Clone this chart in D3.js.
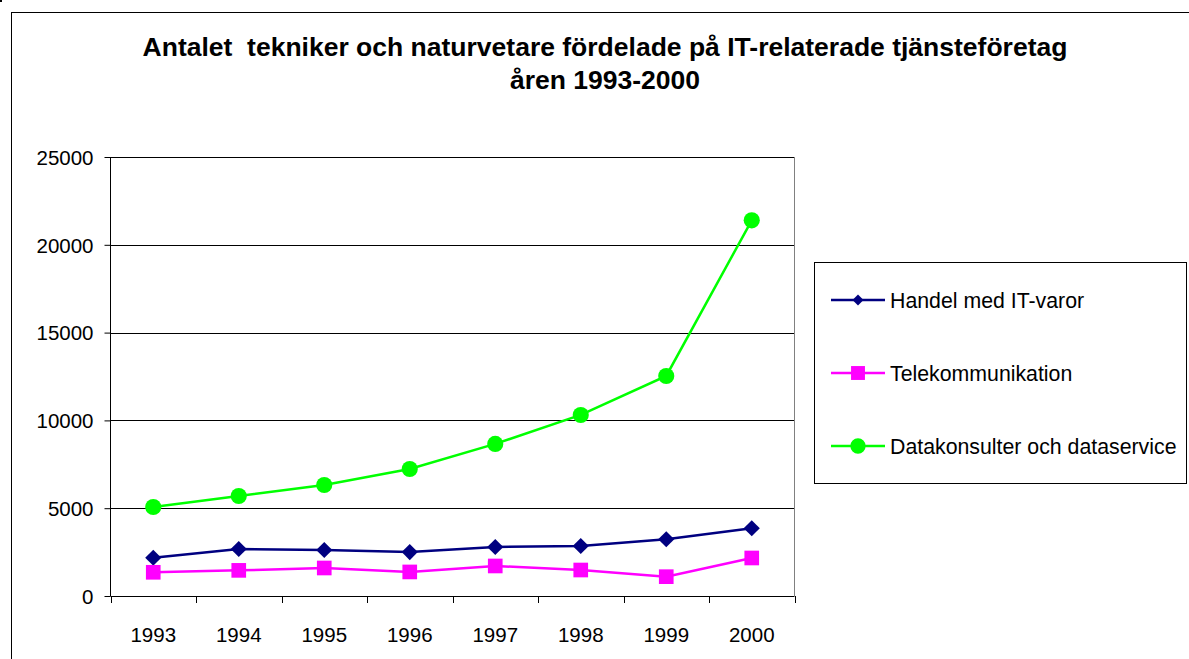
<!DOCTYPE html>
<html>
<head>
<meta charset="utf-8">
<script src="https://cdn.jsdelivr.net/npm/d3@7"></script>
<style>
  body { margin: 0; background: #fff; }
  text { font-family: "Liberation Sans", Arial, sans-serif; }
</style>
</head>
<body>
<div id="chart"></div>
<script>
// Data
const years = ["1993", "1994", "1995", "1996", "1997", "1998", "1999", "2000"];
const handel = [2180, 2680, 2620, 2500, 2790, 2850, 3230, 3855];
const telekom = [1350, 1460, 1595, 1370, 1710, 1480, 1100, 2165];
const datakons = [5070, 5695, 6320, 7230, 8660, 10310, 12530, 21395];
const yTicks = [0, 5000, 10000, 15000, 20000, 25000];
const seriesNames = ["Handel med IT-varor", "Telekommunikation", "Datakonsulter och dataservice"];

const W = 1189, H = 659;
const plot = { left: 110.5, right: 794.5, top: 157, bottom: 596 };
const font = '"Liberation Sans", Arial, sans-serif';

const svg = d3.select("#chart").append("svg")
    .attr("width", W).attr("height", H);

// outer chart frame (runs off the right and bottom edge)
svg.append("rect")
    .attr("x", 11.5).attr("y", 12.5)
    .attr("width", W + 10).attr("height", H + 10)
    .attr("fill", "none").attr("stroke", "#000");
svg.append("rect").attr("x", 0).attr("y", 0).attr("width", 2).attr("height", 2).attr("fill", "#000");

// title
const title = svg.append("text")
    .attr("text-anchor", "middle")
    .attr("font-weight", "bold")
    .attr("font-size", 26.5)
    .attr("xml:space", "preserve")
    .style("white-space", "pre");
title.append("tspan").attr("x", 605).attr("y", 56).text("Antalet  tekniker och naturvetare fördelade på IT-relaterade tjänsteföretag");
title.append("tspan").attr("x", 605).attr("y", 89).text("åren 1993-2000");

const x = d3.scaleBand().domain(years).range([plot.left, plot.right]);
const y = d3.scaleLinear().domain([0, 25000]).range([plot.bottom, plot.top]);

// gridlines
svg.append("g").selectAll("line")
    .data(yTicks.filter(d => d > 0))
    .join("line")
    .attr("x1", plot.left).attr("x2", plot.right)
    .attr("y1", d => Math.round(y(d)) + 0.5).attr("y2", d => Math.round(y(d)) + 0.5)
    .attr("stroke", "#000").attr("stroke-width", 1);

// right border of plot area
svg.append("line")
    .attr("x1", plot.right).attr("x2", plot.right)
    .attr("y1", plot.top).attr("y2", plot.bottom)
    .attr("stroke", "#808080");

// y axis
const yAxis = svg.append("g")
    .attr("transform", `translate(${plot.left},0)`)
    .call(d3.axisLeft(y).tickValues(yTicks).tickSize(6).tickPadding(11).tickFormat(d3.format("d")));
yAxis.select(".domain").attr("d", `M0,${plot.top}V${plot.bottom}`);
yAxis.selectAll("text").attr("font-size", 20.5).attr("fill", "#000").attr("dy", "0.36em")
    .style("font-family", font);

// x axis
const xAxis = svg.append("g")
    .attr("transform", `translate(0,${plot.bottom + 0.5})`)
    .call(d3.axisBottom(x).tickSize(0));
xAxis.select(".domain").attr("d", `M${plot.left},0H${plot.right}`);
xAxis.selectAll("text").attr("font-size", 20.5).attr("fill", "#000")
    .attr("y", 45.5).attr("dy", 0)
    .style("font-family", font);
// tick marks between categories
svg.append("g").selectAll("line")
    .data(years.concat(["end"]))
    .join("line")
    .attr("x1", (d, i) => Math.round(plot.left + i * x.step()) + 0.5)
    .attr("x2", (d, i) => Math.round(plot.left + i * x.step()) + 0.5)
    .attr("y1", plot.bottom).attr("y2", plot.bottom + 7)
    .attr("stroke", "#000");

const series = [
    { name: seriesNames[0], values: handel, color: "#000080", shape: d3.symbolSquare, size: 130, rotate: 45 },
    { name: seriesNames[1], values: telekom, color: "#FF00FF", shape: d3.symbolSquare, size: 215, rotate: 0 },
    { name: seriesNames[2], values: datakons, color: "#00FF00", shape: d3.symbolCircle, size: 205, rotate: 0 }
];

const cx = d => x(d) + x.bandwidth() / 2;
const line = d3.line().x((d, i) => cx(years[i])).y(d => y(d));

series.forEach(s => {
    svg.append("path")
        .attr("d", line(s.values))
        .attr("fill", "none").attr("stroke", s.color).attr("stroke-width", 2.5);
    svg.append("g").selectAll("path")
        .data(s.values)
        .join("path")
        .attr("transform", (d, i) => `translate(${cx(years[i])},${y(d)}) rotate(${s.rotate})`)
        .attr("d", d3.symbol().type(s.shape).size(s.size))
        .attr("fill", s.color);
});

// legend
svg.append("rect")
    .attr("x", 814.5).attr("y", 262.5).attr("width", 372).attr("height", 221)
    .attr("fill", "#fff").attr("stroke", "#000");
const legendY = d3.scalePoint().domain(seriesNames).range([300, 446]);
series.forEach((s, i) => {
    const ly = legendY(s.name);
    svg.append("line").attr("x1", 831).attr("x2", 885).attr("y1", ly).attr("y2", ly)
        .attr("stroke", s.color).attr("stroke-width", 2.5);
    svg.append("path").attr("transform", `translate(858,${ly}) rotate(${s.rotate})`)
        .attr("d", d3.symbol().type(s.shape).size(i === 0 ? 60 : s.size * 0.9)).attr("fill", s.color);
    svg.append("text").attr("x", 890).attr("y", ly + 7.5)
        .attr("font-size", 21.3).text(s.name);
});
</script>
</body>
</html>
